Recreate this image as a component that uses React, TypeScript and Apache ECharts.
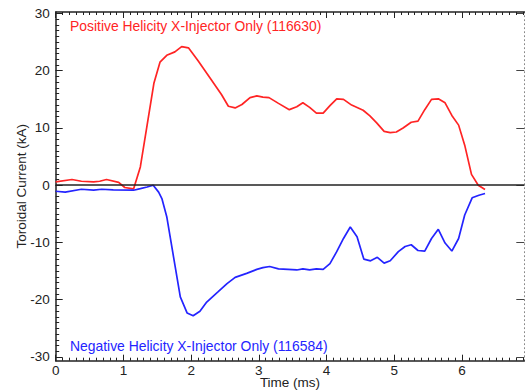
import React, { useEffect, useRef } from 'react';
import * as echarts from 'echarts';

// Positive helicity shot (116630): time (ms) and toroidal current (kA)
const positiveTime = [0, 0.24, 0.38, 0.56, 0.65, 0.75, 0.93, 1.02, 1.15, 1.25, 1.35, 1.45, 1.54, 1.64, 1.76, 1.86, 1.96, 2.1, 2.3, 2.45, 2.55, 2.65, 2.75, 2.87, 2.97, 3.06, 3.15, 3.29, 3.45, 3.56, 3.65, 3.75, 3.85, 3.95, 4.05, 4.15, 4.25, 4.37, 4.54, 4.64, 4.74, 4.85, 4.94, 5.03, 5.13, 5.25, 5.35, 5.45, 5.55, 5.65, 5.75, 5.85, 5.95, 6.04, 6.14, 6.24, 6.34];
const positiveCurrent = [0.58, 1.0, 0.7, 0.58, 0.7, 1.0, 0.5, -0.4, -0.65, 3.2, 10.5, 17.8, 21.5, 22.7, 23.3, 24.2, 24.0, 21.8, 18.4, 15.8, 13.8, 13.5, 14.1, 15.3, 15.6, 15.4, 15.3, 14.3, 13.2, 13.7, 14.4, 13.6, 12.6, 12.6, 13.9, 15.1, 15.0, 14.0, 13.1, 12.1, 10.9, 9.4, 9.2, 9.3, 10.0, 11.0, 11.2, 13.2, 15.0, 15.1, 14.4, 12.2, 10.5, 7.0, 1.9, 0.0, -0.75];

// Negative helicity shot (116584)
const negativeTime = [0, 0.14, 0.38, 0.56, 0.68, 0.85, 1.15, 1.25, 1.35, 1.44, 1.52, 1.57, 1.64, 1.74, 1.84, 1.94, 2.03, 2.13, 2.23, 2.4, 2.53, 2.65, 2.82, 2.97, 3.06, 3.16, 3.29, 3.43, 3.56, 3.65, 3.75, 3.85, 3.95, 4.05, 4.15, 4.25, 4.35, 4.45, 4.55, 4.65, 4.75, 4.85, 4.94, 5.06, 5.16, 5.25, 5.35, 5.45, 5.55, 5.65, 5.75, 5.85, 5.95, 6.04, 6.15, 6.25, 6.34];
const negativeCurrent = [-1.05, -1.2, -0.7, -0.87, -0.7, -0.8, -0.87, -0.6, -0.3, 0, -1.2, -2.4, -5.5, -12.5, -19.5, -22.3, -22.8, -22.0, -20.4, -18.6, -17.2, -16.1, -15.4, -14.7, -14.4, -14.2, -14.6, -14.7, -14.8, -14.6, -14.8, -14.6, -14.7, -13.7, -11.6, -9.3, -7.3, -9.0, -12.9, -13.2, -12.6, -13.6, -13.2, -11.6, -10.7, -10.4, -11.4, -11.5, -9.3, -7.7, -10.1, -11.5, -9.3, -5.2, -2.2, -1.75, -1.45];

// Axis ticks
const xMajorTicks = [0, 1, 2, 3, 4, 5, 6];
const xMinorTicks = Array.from({ length: 70 }, (_, i) => i / 10);
const yMajorTicks = [-30, -20, -10, 0, 10, 20, 30];
const yMinorTicks = Array.from({ length: 61 }, (_, i) => i - 30);

const X_MIN = 0;
const X_MAX = 6.92;
const Y_MIN = -30.65;
const Y_MAX = 30.26;

const positiveLabel = 'Positive Helicity X-Injector Only (116630)';
const negativeLabel = 'Negative Helicity X-Injector Only (116584)';

const FONT = '"Liberation Sans", Arial, Helvetica, sans-serif';
const RED = '#ff2424';
const BLUE = '#2424ff';
const INK = '#222';

function xAxisDef(position: 'top' | 'bottom', ticks: number[], len: number, showLine: boolean, showLabels: boolean, name?: string) {
  return {
    type: 'value',
    gridIndex: 0,
    position,
    min: X_MIN,
    max: X_MAX,
    name: name || '',
    nameLocation: 'middle',
    nameGap: 15.5,
    nameMoveOverlap: false,
    nameTextStyle: { fontFamily: FONT, fontSize: 13.5, color: INK, lineHeight: 13 },
    axisLine: { show: showLine, onZero: false, lineStyle: { color: INK, width: 1.5 } },
    axisTick: { show: true, inside: true, length: len, customValues: ticks, lineStyle: { color: INK, width: 1 } },
    axisLabel: showLabels
      ? { show: true, customValues: xMajorTicks, fontFamily: FONT, fontSize: 13.5, color: INK, margin: 3.5, lineHeight: 12 }
      : { show: false },
    splitLine: { show: false },
  };
}

function yAxisDef(position: 'left' | 'right', ticks: number[], len: number, line: any, showLabels: boolean, tickColor: string, name?: string) {
  return {
    type: 'value',
    gridIndex: 0,
    position,
    min: Y_MIN,
    max: Y_MAX,
    name: name || '',
    nameLocation: 'middle',
    nameGap: 27,
    nameMoveOverlap: false,
    nameTextStyle: { fontFamily: FONT, fontSize: 13.5, color: INK },
    axisLine: line,
    axisTick: { show: true, inside: true, length: len, customValues: ticks, lineStyle: { color: tickColor, width: 1 } },
    axisLabel: showLabels
      ? { show: true, customValues: yMajorTicks, fontFamily: FONT, fontSize: 13.5, color: INK, margin: 6 }
      : { show: false },
    splitLine: { show: false },
  };
}

export default function App() {
  const ref = useRef<HTMLDivElement>(null);

  useEffect(() => {
    if (!ref.current) return;
    const chart = echarts.init(ref.current, null, { renderer: 'svg' });
    const solid = { show: true, onZero: false, lineStyle: { color: INK, width: 1.5 } };
    const dotted = { show: true, onZero: false, lineStyle: { color: '#888', width: 1, type: [1, 3] } };
    const none = { show: false };

    chart.setOption({
      animation: false,
      backgroundColor: '#ffffff',
      grid: { left: 55.7, right: 1.7, top: 12, bottom: 30.3, containLabel: false, outerBoundsMode: 'none' },
      xAxis: [
        xAxisDef('bottom', xMajorTicks, 6, true, true, 'Time (ms)'),
        xAxisDef('bottom', xMinorTicks, 3, false, false),
        xAxisDef('top', xMajorTicks, 6, true, false),
        xAxisDef('top', xMinorTicks, 3, false, false),
      ],
      yAxis: [
        yAxisDef('left', yMajorTicks, 7, solid, true, INK, 'Toroidal Current (kA)'),
        yAxisDef('left', yMinorTicks, 3.5, none, false, INK),
        yAxisDef('right', yMajorTicks, 8, dotted, false, '#444'),
      ],
      series: [
        {
          name: 'Positive',
          type: 'line',
          xAxisIndex: 0,
          yAxisIndex: 0,
          showSymbol: false,
          symbol: 'none',
          lineStyle: { color: RED, width: 1.7 },
          data: positiveTime.map((t, i) => [t, positiveCurrent[i]]),
          markLine: {
            silent: true,
            symbol: 'none',
            label: { show: false },
            lineStyle: { color: INK, width: 1.5, type: 'solid' },
            data: [{ yAxis: 0 }],
          },
          z: 3,
        },
        {
          name: 'Negative',
          type: 'line',
          xAxisIndex: 0,
          yAxisIndex: 0,
          showSymbol: false,
          symbol: 'none',
          lineStyle: { color: BLUE, width: 1.7 },
          data: negativeTime.map((t, i) => [t, negativeCurrent[i]]),
          z: 3,
        },
      ],
      graphic: [
        {
          type: 'text',
          x: 70,
          y: 26,
          style: { text: positiveLabel, fill: RED, font: `13.9px ${FONT}`, textAlign: 'left', textVerticalAlign: 'middle' },
        },
        {
          type: 'text',
          x: 70,
          y: 346,
          style: { text: negativeLabel, fill: BLUE, font: `13.9px ${FONT}`, textAlign: 'left', textVerticalAlign: 'middle' },
        },
      ],
    });
    return () => chart.dispose();
  }, []);

  return (
    <div
      ref={ref}
      style={{ position: 'fixed', left: 0, top: 0, width: 526, height: 391, background: '#fff' }}
    />
  );
}
